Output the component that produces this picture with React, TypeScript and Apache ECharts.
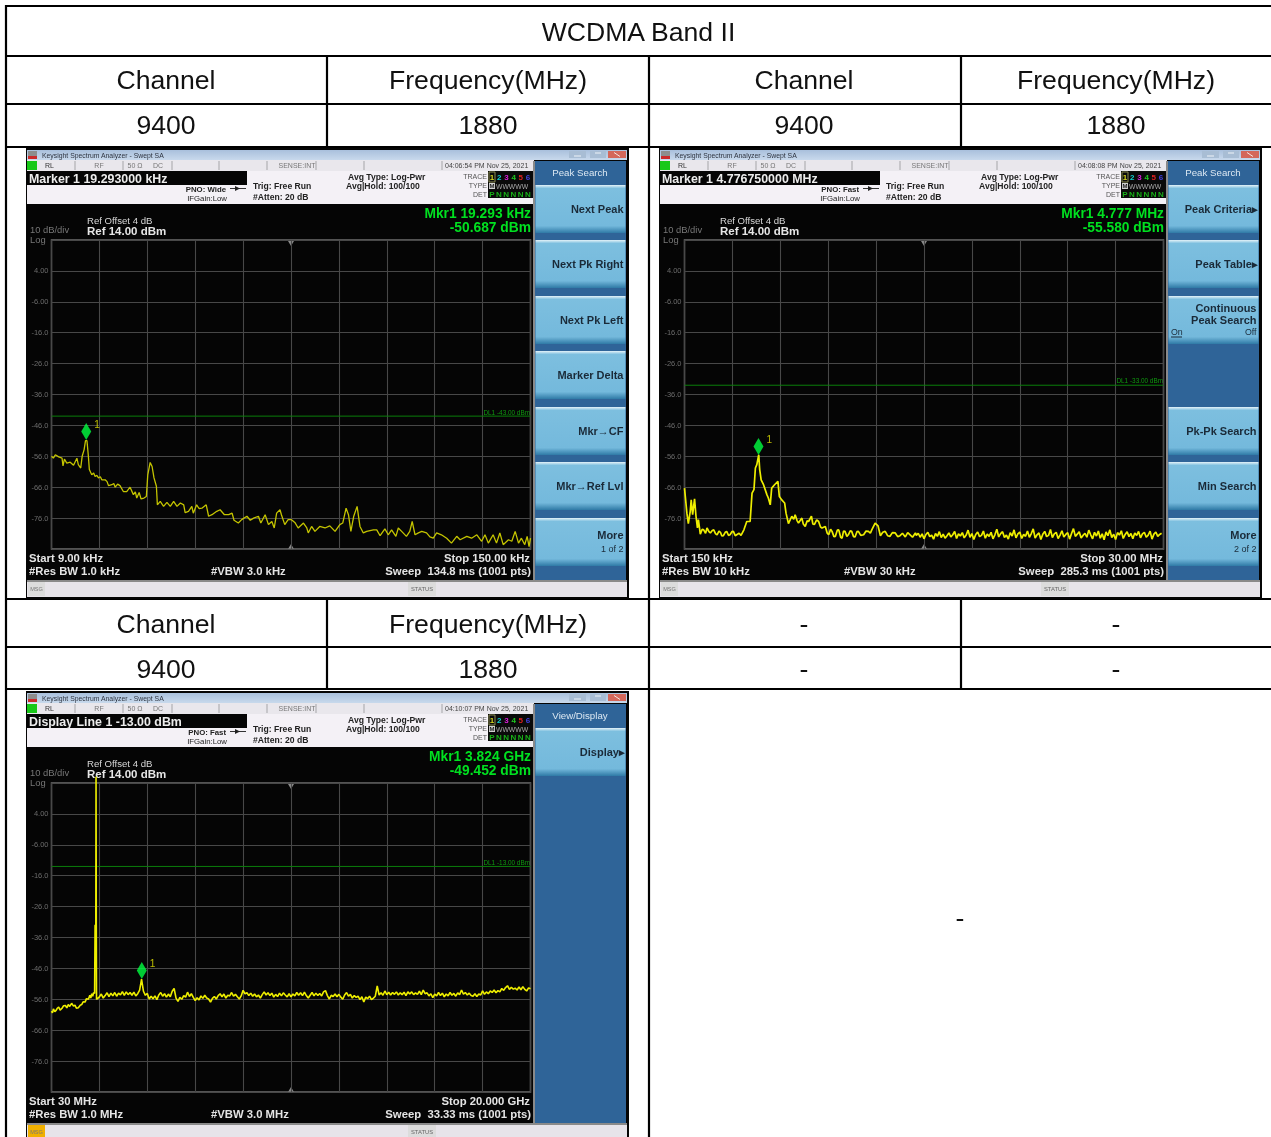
import React, { useEffect, useRef } from "react";
import * as echarts from "echarts";

const FONT = '"Liberation Sans", Arial, sans-serif';

const yTickLabels = ["4.00", "-6.00", "-16.0", "-26.0", "-36.0", "-46.0", "-56.0", "-66.0", "-76.0"];
const refLevel = 14;

// [sweep point, dBm]
const trace1: number[][] = [
  [0,-56],[4,-56.6],[8,-55.5],[15,-56.2],[22,-56.6],[24,-59.1],[27,-56.9],[32,-58.2],[39,-57.9],[46,-58.9],[53,-56.6],[56,-58.7],[61,-59.8],[64,-56],[68,-53.9],[71,-50.9],[74,-50.9],[77,-56],[79,-60.3],[84,-62],[88,-61.4],[91,-62.5],[95,-62.2],[98,-63],[102,-62.6],[105,-63.6],[112,-63.6],[116,-64.2],[119,-65.5],[126,-65.2],[130,-64.8],[133,-66],[138,-65],[143,-65.5],[150,-67.4],[157,-67.4],[164,-66],[171,-68.4],[175,-67.5],[178,-69.5],[183,-67.7],[187,-69.8],[193,-69.5],[198,-69],[201,-62],[206,-58],[210,-59.3],[214,-63],[219,-65.7],[221,-71.7],[227,-70.6],[234,-72.2],[241,-70.9],[248,-72.2],[255,-70.6],[262,-72.2],[269,-71.1],[276,-71.7],[279,-74.2],[286,-73.8],[293,-72.2],[296,-74.4],[303,-71.7],[308,-72.9],[314,-72.8],[323,-71.7],[328,-75.4],[335,-74.9],[345,-73.8],[352,-73.3],[361,-74.9],[370,-74.9],[377,-74.4],[381,-76.7],[390,-77.6],[397,-76.5],[408,-75.4],[415,-76.7],[422,-76],[432,-75.4],[437,-77.6],[446,-74.9],[453,-78.1],[460,-77.1],[465,-79.2],[470,-74.4],[477,-73.3],[480,-74.9],[487,-78.1],[494,-76.5],[501,-76.5],[508,-77.4],[515,-79.2],[526,-77.6],[533,-79.2],[536,-80.8],[543,-78.7],[550,-80.3],[560,-78.7],[571,-79.2],[581,-78.5],[592,-80.3],[602,-78.1],[608,-77.6],[615,-72.8],[620,-74.9],[625,-80.3],[631,-75.4],[638,-72.2],[644,-78.7],[651,-80.8],[658,-80.3],[672,-79.8],[679,-79.8],[686,-81.7],[696,-79.5],[703,-81.4],[710,-79.8],[719,-81.9],[724,-79.2],[731,-80.3],[741,-81.9],[748,-80.3],[753,-77.1],[759,-81.4],[766,-80.8],[773,-80.3],[783,-80.8],[790,-82.1],[797,-82.5],[804,-80.8],[814,-81.4],[825,-82.5],[835,-84.1],[846,-81.9],[853,-83],[867,-81.9],[877,-82.5],[888,-81.4],[898,-83.5],[905,-81.4],[912,-84.1],[922,-81.4],[929,-84.1],[936,-80.8],[943,-84.6],[954,-83],[961,-83.5],[968,-80.3],[975,-84.1],[981,-82.5],[988,-84.6],[993,-81.9],[997,-85.2],[1000,-82.5],
];

const trace2: number[][] = [
  [0,-66.3],[3,-71.1],[5,-74.4],[8,-77.8],[12,-73.8],[14,-70.1],[17,-74.9],[21,-69.8],[24,-75.4],[27,-79.2],[29,-76.5],[33,-81.2],[37,-79.6],[40,-79.8],[44,-80.9],[47,-79.2],[51,-80.4],[54,-80.8],[58,-80],[61,-79.8],[65,-81.1],[68,-81.4],[72,-80.2],[75,-80.6],[78,-81.8],[81,-81.7],[85,-80.6],[88,-80.3],[92,-81.6],[95,-81.4],[99,-80.4],[102,-80.3],[106,-81.7],[109,-81.4],[114,-80.9],[118,-81.6],[124,-79.8],[130,-77.1],[137,-77.1],[141,-67.9],[145,-66.8],[148,-59.8],[151,-58.7],[155,-55.5],[157,-60.3],[160,-63.6],[165,-65.2],[172,-68.4],[175,-69.5],[179,-71.7],[182,-66.3],[188,-65.2],[195,-64.1],[198,-69],[203,-70.1],[209,-71.1],[212,-74.4],[217,-77.8],[224,-75.4],[228,-76.4],[231,-74.9],[235,-76.8],[238,-77.6],[245,-76],[248,-77.9],[252,-78.7],[256,-76.9],[259,-77.1],[265,-75.4],[268,-77.9],[271,-78.1],[276,-76.6],[280,-77.1],[284,-78.9],[287,-79.2],[294,-78.7],[298,-80.9],[301,-81.4],[305,-79.6],[308,-80.3],[312,-82],[315,-81.9],[319,-79.9],[322,-79.8],[326,-82.2],[329,-82.5],[332,-80.2],[335,-80.3],[339,-81.9],[342,-81.4],[346,-80.1],[349,-80.3],[353,-82],[356,-82.1],[360,-80.4],[363,-80.3],[368,-81.6],[374,-81.4],[379,-80.2],[384,-80.3],[388,-80.9],[391,-79.8],[398,-77.6],[404,-78.5],[409,-81.7],[414,-80.6],[419,-80.3],[424,-81.7],[429,-81.9],[434,-80.7],[440,-80.8],[445,-82],[450,-81.7],[455,-80.9],[461,-82.1],[466,-80.7],[471,-81.4],[476,-82.2],[482,-80.8],
];

// dBm at sweep points 484, 488, 492 ... 1000
const trace2Tail: number[] = [
  -81.6,-80.9,-82.2,-81.1,-82.7,-81.3,-80.6,-82,-81.5,-82.8,-81,-81.9,-80.4,-82.3,-81.2,-82.5,-81.7,-80.8,-82.1,-81.4,
  -80.3,-82.6,-81.1,-81.8,-80.7,-82.4,-81.5,-79.9,-82.2,-81,-82.9,-81.3,-80.5,-82,-81.6,-80.2,-82.5,-81.2,-81.9,-80.6,
  -82.7,-81.4,-79.6,-82.1,-81,-80.4,-82.3,-81.5,-82.8,-80.7,-81.8,-79.8,-82.4,-81.1,-80.5,-82.6,-81.3,-81.9,-80.2,-82.2,
  -81,-79.5,-82.5,-81.4,-80.8,-82.9,-81.2,-80.3,-82,-81.6,-79.7,-82.3,-81.1,-80.6,-82.6,-81.5,-80.1,-82.1,-81.3,-80.7,
  -82.8,-81,-79.4,-81.9,-81.2,-80.4,-82.4,-81.6,-80.9,-82.2,-79.9,-81.4,-82.7,-80.6,-81.8,-80.2,-82.5,-81.1,-83,-80.5,
  -81.7,-79.8,-82.3,-81.2,-82.9,-80.7,-81.5,-80.1,-82.6,-81.3,-80.4,-82,-81,-82.7,-80.8,-81.6,-80.3,-82.4,-81.1,-80.6,
  -82.2,-81.5,-80.2,-82.8,-81.2,-80.5,-81.9,-81.3,-80.9,
];

const trace3: number[][] = [
  [0,-59.8],[2,-60.4],[4,-59.1],[7,-60],[10,-59.5],[12,-58.9],[15,-58.5],[18,-59.5],[22,-58.9],[25,-58.1],[29,-58],[32,-58.8],[35,-57.7],[38,-58.3],[42,-57.3],[46,-58.2],[49,-57.9],[52,-58.9],[56,-58.7],[60,-57.9],[63,-57.7],[66,-56.8],[70,-56.9],[73,-55.8],[77,-56],[80,-54.7],[82,-55.6],[84,-54.2],[86,-55],[88,-53.8],[90,-54.1],[91,-32],[92.5,-32],[93,16],[93.5,-32],[94,-56],
];

// dBm at sweep points 96, 100, 104 ... 1000
const trace3Tail: number[] = [
  -55.8,-55.2,-54.3,-55.6,-54.8,-53.9,-55.1,-54,-54.9,-53.8,-55,-54,-54.6,-53.5,-54.7,-53.6,-54.5,-53.8,-54.7,-53.7,-54.9,-54.2,-53,-49.5,-53.4,-54.7,-54.1,-55.9,-55,-55.8,
  -54.9,-56.1,-54.6,-53.8,-55,-54.2,-55.3,-54.3,-55.2,-53.4,-52.5,-55.6,-56.7,-55.4,-56,-54.8,-55.3,-53.7,-55.1,-54.2,-55.4,-56.4,-55.5,-56.2,-54.9,-55.7,-54.7,-55.6,-55.9,-56.9,
  -55.7,-55.1,-55.9,-54.8,-54.2,-55.2,-54.3,-55.6,-54.7,-54.9,-53.8,-55,-54.4,-55.2,-55.9,-54.9,-53.1,-54.2,-53.9,-54.8,-54,-55,-54.3,-55.2,-54.6,-55.6,-54.5,-53.6,-54.6,-53.9,
  -54.8,-54,-55.3,-54.4,-55.1,-54,-54.9,-53.9,-54.6,-55.2,-54.2,-55.2,-54.3,-54.9,-53.8,-54.7,-53.9,-54.8,-53.7,-54.8,-55.6,-54.7,-53.8,-54.9,-54,-54.8,-54.1,-54.9,-53.6,-53.2,
  -54.8,-55.9,-54.7,-55.1,-54.3,-55.2,-54.4,-55.3,-56,-54.6,-53.8,-55,-54.4,-55.6,-54.8,-55.4,-55,-56.1,-55.2,-56.9,-55.3,-55.8,-55,-56.1,-55.6,-55,-51.7,-54.6,-53.9,-54.7,
  -53.3,-54.5,-53.7,-54.6,-53.8,-54.4,-53.6,-54.6,-53.9,-54.5,-53.7,-54.8,-53.6,-54.3,-53.6,-54.5,-53.9,-54.4,-53.4,-54.5,-53,-54.2,-53.9,-54.9,-54.2,-55.5,-54.3,-54.9,-53.8,-54.8,
  -54,-55.2,-54.3,-54.9,-53.8,-54.7,-54.1,-55,-53.9,-54.5,-53,-54.3,-53.8,-54.6,-54,-54.8,-55,-54.2,-55.1,-54.3,-54.6,-53.3,-54.4,-53.6,-54.2,-53.3,-53.8,-53,-53.9,-53.2,
  -53.6,-52.5,-53.1,-52.2,-51.6,-52.8,-52.1,-52.7,-52.4,-53,-52,-52.9,-51.9,-52.8,-53.3,-52.3,-52.6,
];

const markers = [
  { point: 72.5, dbm: -50.687 },
  { point: 154.5, dbm: -55.58 },
  { point: 188.5, dbm: -49.452 },
];
const displayLines = [-43, -33, -13];

const tableRows = [
  { y: 80, cells: ["Channel", "Frequency(MHz)", "Channel", "Frequency(MHz)"] },
  { y: 125, cells: ["9400", "1880", "9400", "1880"] },
  { y: 624, cells: ["Channel", "Frequency(MHz)", "-", "-"] },
  { y: 669, cells: ["9400", "1880", "-", "-"] },
];
const tableColumnCenters = [166, 488, 804, 1116];

type Key = { y: number; lines: [string, number][]; };
const panels = [
  {
    dx: 0, dy: 0,
    markerText: "Marker 1 19.293000 kHz", pno: "PNO: Wide", time: "04:06:54 PM Nov 25, 2021",
    mkr: "Mkr1 19.293 kHz", mkrAmp: "-50.687 dBm", dl: "DL1 -43.00 dBm", dlY: 412,
    start: "Start 9.00 kHz", res: "#Res BW 1.0 kHz", vbw: "#VBW 3.0 kHz", stop: "Stop 150.00 kHz", sweep: "Sweep  134.8 ms (1001 pts)",
    header: "Peak Search", msgAlert: false,
    keys: [
      { y: 185, lines: [["Next Peak", 24]] }, { y: 240, lines: [["Next Pk Right", 24]] },
      { y: 296, lines: [["Next Pk Left", 24]] }, { y: 351, lines: [["Marker Delta", 24]] },
      { y: 407, lines: [["Mkr\u2192CF", 24]] }, { y: 462, lines: [["Mkr\u2192Ref Lvl", 24]] },
      { y: 518, lines: [["More", 17], ["1 of 2", 31]] },
    ] as Key[],
  },
  {
    dx: 633, dy: 0,
    markerText: "Marker 1 4.776750000 MHz", pno: "PNO: Fast", time: "04:08:08 PM Nov 25, 2021",
    mkr: "Mkr1 4.777 MHz", mkrAmp: "-55.580 dBm", dl: "DL1 -33.00 dBm", dlY: 380.5,
    start: "Start 150 kHz", res: "#Res BW 10 kHz", vbw: "#VBW 30 kHz", stop: "Stop 30.00 MHz", sweep: "Sweep  285.3 ms (1001 pts)",
    header: "Peak Search", msgAlert: false,
    keys: [
      { y: 185, lines: [["Peak Criteria\u25B8", 24]] }, { y: 240, lines: [["Peak Table\u25B8", 24]] },
      { y: 296, lines: [["Continuous", 12], ["Peak Search", 24]] },
      { y: 407, lines: [["Pk-Pk Search", 24]] }, { y: 462, lines: [["Min Search", 24]] },
      { y: 518, lines: [["More", 17], ["2 of 2", 31]] },
    ] as Key[],
  },
  {
    dx: 0, dy: 543,
    markerText: "Display Line 1 -13.00 dBm", pno: "PNO: Fast", time: "04:10:07 PM Nov 25, 2021",
    mkr: "Mkr1 3.824 GHz", mkrAmp: "-49.452 dBm", dl: "DL1 -13.00 dBm", dlY: 319,
    start: "Start 30 MHz", res: "#Res BW 1.0 MHz", vbw: "#VBW 3.0 MHz", stop: "Stop 20.000 GHz", sweep: "Sweep  33.33 ms (1001 pts)",
    header: "View/Display", msgAlert: true,
    keys: [{ y: 185, lines: [["Display\u25B8", 24]] }] as Key[],
  },
];

const t = (text: string, x: number, y: number, size: number, fill: string, bold = false, align = "left") => ({
  type: "text", z: -1, x, y,
  style: { text, fontSize: size, fontWeight: bold ? "bold" : "normal", fontFamily: FONT, fill, align, verticalAlign: "middle" },
});
const r = (x: number, y: number, width: number, height: number, fill: any) => ({
  type: "rect", z: -1, shape: { x, y, width, height }, style: { fill },
});
const l = (x1: number, y1: number, x2: number, y2: number, stroke: string, lineWidth = 1) => ({
  type: "line", z: -1, shape: { x1, y1, x2, y2 }, style: { stroke, lineWidth },
});
const grad = (stops: [number, string][]) => ({
  type: "linear", x: 0, y: 0, x2: 0, y2: 1,
  colorStops: stops.map(([offset, color]) => ({ offset, color })),
});

function panelGraphics(p: (typeof panels)[number]) {
  const { dx, dy } = p;
  const X = (v: number) => v + dx;
  const Y = (v: number) => v + dy;
  const out: any[] = [];
  out.push(r(X(26), Y(148), 603, 451, "#050505"));
  // title bar
  out.push(r(X(27), Y(150), 600, 10, grad([[0, "#a9c0dc"], [1, "#c8d9ec"]])));
  out.push(r(X(28), Y(151), 9, 5, "#8d8d8d"), r(X(28), Y(156), 9, 3, "#cc2a2a"));
  out.push(t("Keysight Spectrum Analyzer - Swept SA", X(42), Y(155), 6.85, "#2e3440"));
  out.push(r(X(569), Y(151), 17, 7, "#a8bdd4"), r(X(590), Y(151), 16, 7, "#a8bdd4"), r(X(608), Y(151), 18, 7, "#d4675a"));
  out.push(l(X(574), Y(156), X(581), Y(156), "#eef3f8"), l(X(595), Y(153), X(601), Y(153), "#eef3f8"), l(X(614), Y(152.5), X(620), Y(156.5), "#f4e4e0"));
  // status row
  out.push(r(X(27), Y(160), 507, 11, "#e9e7ec"));
  out.push(r(X(27), Y(161), 10, 9, "#18c818"));
  out.push(t("RL", X(45), Y(165.5), 7, "#333"), t("RF", X(99), Y(165.5), 7, "#777", false, "center"), t("50 \u03A9", X(135), Y(165.5), 7, "#777", false, "center"), t("DC", X(158), Y(165.5), 7, "#777", false, "center"), t("SENSE:INT", X(297), Y(165.5), 7, "#777", false, "center"));
  [75, 123, 172, 219, 267, 316, 364, 442].forEach((x) => out.push(l(X(x), Y(161), X(x), Y(170), "#a5a5a8")));
  out.push(t(p.time, X(445), Y(165.5), 7, "#444"));
  // info area
  out.push(r(X(27), Y(171), 507, 33, "#f4f1f6"));
  out.push(r(X(27), Y(171), 220, 14, "#050505"));
  out.push(t(p.markerText, X(29), Y(178.5), 12.4, "#ececec", true));
  out.push(t(p.pno, X(226), Y(189), 7.8, "#222", true, "right"), t("IFGain:Low", X(227), Y(198), 7.8, "#222", false, "right"));
  out.push(l(X(230), Y(188.5), X(246), Y(188.5), "#333"));
  out.push({ type: "polygon", z: -1, shape: { points: [[X(235), Y(186)], [X(240), Y(188.5)], [X(235), Y(191)]] }, style: { fill: "#222" } });
  out.push(t("Trig: Free Run", X(253), Y(186), 8.6, "#222", true), t("#Atten: 20 dB", X(253), Y(197), 8.6, "#222", true));
  out.push(t("Avg Type: Log-Pwr", X(348), Y(176.5), 8.6, "#222", true), t("Avg|Hold: 100/100", X(346), Y(186), 8.6, "#222", true));
  out.push(t("TRACE", X(487), Y(176.5), 7, "#555", false, "right"), t("TYPE", X(487), Y(185.5), 7, "#555", false, "right"), t("DET", X(487), Y(194), 7, "#555", false, "right"));
  out.push(r(X(488), Y(171), 46, 27, "#0a0a0a"));
  out.push({ type: "rect", z: -1, shape: { x: X(489), y: Y(172), width: 6, height: 10 }, style: { fill: "none", stroke: "#8a8a50", lineWidth: 1 } });
  [["1", "#d8d820"], ["2", "#10d0d0"], ["3", "#d820d8"], ["4", "#20c820"], ["5", "#e02020"], ["6", "#4040e0"]].forEach(([d, c], i) =>
    out.push(t(d, X(492 + i * 7.2), Y(177), 8, c, true, "center")));
  out.push(r(X(489), Y(183), 6, 6, "#d0d0d0"), t("M", X(492), Y(186), 6, "#222", true, "center"), t("WWWWW", X(496), Y(186), 6.8, "#aaa"));
  out.push(t("P", X(492), Y(194), 8, "#18b018", true, "center"));
  ["N", "N", "N", "N", "N"].forEach((d, i) => out.push(t(d, X(499 + i * 7.2), Y(194), 8, "#18b018", true, "center")));
  // reference
  out.push(t("Ref Offset 4 dB", X(87), Y(220), 9.6, "#d8d8d8"), t("Ref 14.00 dBm", X(87), Y(230.5), 11.5, "#e6e6e6", true));
  out.push(t("10 dB/div", X(30), Y(229.5), 9.4, "#777"), t("Log", X(30), Y(239.8), 9.4, "#777"));
  out.push(t(p.mkr, X(531), Y(213.5), 13.8, "#00e020", true, "right"), t(p.mkrAmp, X(531), Y(227.5), 13.8, "#00e020", true, "right"));
  out.push(t(p.dl, X(530), p.dlY + dy, 6.4, "#0f9a0f", false, "right"));
  // soft keys
  out.push(l(X(534), Y(161), X(534), Y(580), "#8a8a8a", 2));
  out.push(r(X(535), Y(161), 91, 419, "#2f6498"));
  out.push(t(p.header, X(580), Y(172.5), 9.7, "#dce8f2", false, "center"));
  p.keys.forEach((k) => {
    out.push(r(X(535.5), Y(k.y), 90, 48, grad([[0, "#e4f2f8"], [0.07, "#7dbfdf"], [0.85, "#74b9dc"], [1, "#2f7aa6"]])));
    k.lines.forEach(([text, off]) => {
      const small = /of 2$/.test(text);
      const rightEdge = /\u25B8$/.test(text) ? 625 : 623.5;
      out.push(t(text, X(rightEdge), Y(k.y + off), small ? 9 : 11, "#1a2a38", !small, "right"));
    });
  });
  if (dx > 0) {
    out.push(t("On", X(538), Y(332), 8.8, "#1a2a38"), l(X(538), Y(337), X(549), Y(337), "#1a2a38"), t("Off", X(623.5), Y(331.5), 8.8, "#1a2a38", false, "right"));
  }
  // footer
  out.push(t(p.start, X(29), Y(557.5), 11.3, "#e4e4e4", true), t(p.res, X(29), Y(570.5), 11.3, "#e4e4e4", true), t(p.vbw, X(211), Y(570.5), 11.3, "#e4e4e4", true));
  out.push(t(p.stop, X(530), Y(557.5), 11.3, "#e4e4e4", true, "right"), t(p.sweep, X(531), Y(570.5), 11.3, "#e4e4e4", true, "right"));
  out.push(r(X(27), Y(580), 600, 2, "#8a8a8a"), r(X(27), Y(582), 600, 15, "#e7e4ea"));
  out.push(r(X(28), Y(582), 17, 14, p.msgAlert ? "#f0b000" : "#dcdcdc"), t("MSG", X(36.5), Y(589), 5.6, "#777", false, "center"));
  out.push(r(X(408), Y(582), 28, 14, "#dcdcdc"), t("STATUS", X(422), Y(589), 5.8, "#666", false, "center"));
  // centre-frequency triangles
  out.push({ type: "polygon", z: -1, shape: { points: [[X(288), Y(241)], [X(294), Y(241)], [X(291), Y(246)]] }, style: { fill: "#8a8a8a" } });
  out.push({ type: "polygon", z: -1, shape: { points: [[X(288), Y(549)], [X(294), Y(549)], [X(291), Y(544)]] }, style: { fill: "#8a8a8a" } });
  return out;
}

function tableGraphics() {
  const out: any[] = [];
  const ink = "#000";
  [[6, 5], [56, 5], [104, 5], [147, 5], [599, 5], [647, 5], [689, 5]].forEach(([y, x1]) =>
    out.push(l(x1, y, 1271, y, ink, 2.2)));
  out.push(l(6, 5, 6, 1137, ink, 2.2), l(649, 56, 649, 1137, ink, 2.2));
  [[327, 56, 147], [961, 56, 147], [327, 599, 689], [961, 599, 689]].forEach(([x, a, b]) => out.push(l(x, a, x, b, ink, 2.2)));
  out.push(t("WCDMA Band II", 638.5, 32, 26.6, "#111", false, "center"));
  tableRows.forEach((row) => row.cells.forEach((c, i) => out.push(t(c, tableColumnCenters[i], row.y, 26.6, "#111", false, "center"))));
  out.push(t("-", 960, 918, 26.6, "#111", false, "center"));
  return out;
}

const plotBoxes = [
  { left: 51.5, top: 240, width: 479, height: 309 },
  { left: 684.5, top: 240, width: 479, height: 309 },
  { left: 51.5, top: 783, width: 479, height: 309 },
];
const traceColors = ["#c4c400", "#eeee00", "#eeee00"];
const traceWidths = [1.3, 1.7, 1.6];
const traces = [
  trace1,
  [...trace2, ...trace2Tail.map((v, i) => [484 + i * 4, v])],
  [...trace3, ...trace3Tail.map((v, i) => [96 + i * 4, v])],
];
const depth = (dbm: number) => refLevel - dbm;

export default function App() {
  const ref = useRef<HTMLDivElement>(null);
  useEffect(() => {
    const chart = echarts.init(ref.current!, undefined, { renderer: "svg" });
    const series: any[] = [];
    traces.forEach((tr, i) => {
      series.push({
        type: "line", xAxisIndex: i, yAxisIndex: i, symbol: "none", clip: false,
        data: tr.map(([x, v]) => [x, depth(v)]),
        lineStyle: { color: traceColors[i], width: traceWidths[i] }, z: 3,
      });
      series.push({
        type: "line", xAxisIndex: i, yAxisIndex: i, symbol: "none",
        data: [[0, depth(displayLines[i])], [1000, depth(displayLines[i])]],
        lineStyle: { color: "#0b7f0b", width: 1 }, z: 2,
      });
      series.push({
        type: "scatter", xAxisIndex: i, yAxisIndex: i, symbol: "diamond", symbolSize: [10, 17], symbolOffset: [0, -8.5],
        data: [[markers[i].point, depth(markers[i].dbm)]],
        itemStyle: { color: "#00ff40" }, z: 4,
        label: { show: true, formatter: "1", color: "#e8e800", fontSize: 10, fontFamily: FONT, position: "right", offset: [0, -7], distance: 3 },
      });
    });
    chart.setOption({
      animation: false,
      backgroundColor: "#ffffff",
      grid: plotBoxes.map((b) => ({ ...b, show: true, backgroundColor: "transparent", borderColor: "#6e6e6e", borderWidth: 1.5, containLabel: false })),
      xAxis: plotBoxes.map((_, i) => ({
        type: "value", gridIndex: i, min: 0, max: 1000, interval: 100,
        axisLine: { show: false }, axisTick: { show: false }, axisLabel: { show: false },
        splitLine: { show: true, lineStyle: { color: "#484848", width: 1.1 } },
      })),
      yAxis: plotBoxes.map((_, i) => ({
        type: "value", gridIndex: i, min: 0, max: 100, interval: 10, inverse: true,
        axisLine: { show: false }, axisTick: { show: false },
        axisLabel: { show: true, margin: 3, fontSize: 7.5, fontFamily: FONT, color: "#6c6c6c", formatter: (v: number) => yTickLabels[v / 10 - 1] ?? "" },
        splitLine: { show: true, lineStyle: { color: "#484848", width: 1.1 } },
      })),
      graphic: { elements: [...tableGraphics(), ...panels.flatMap(panelGraphics)] },
      series,
    });
    return () => chart.dispose();
  }, []);
  return <div ref={ref} style={{ position: "absolute", left: 0, top: 0, width: 1271, height: 1137, filter: "blur(0.35px)" }} />;
}
